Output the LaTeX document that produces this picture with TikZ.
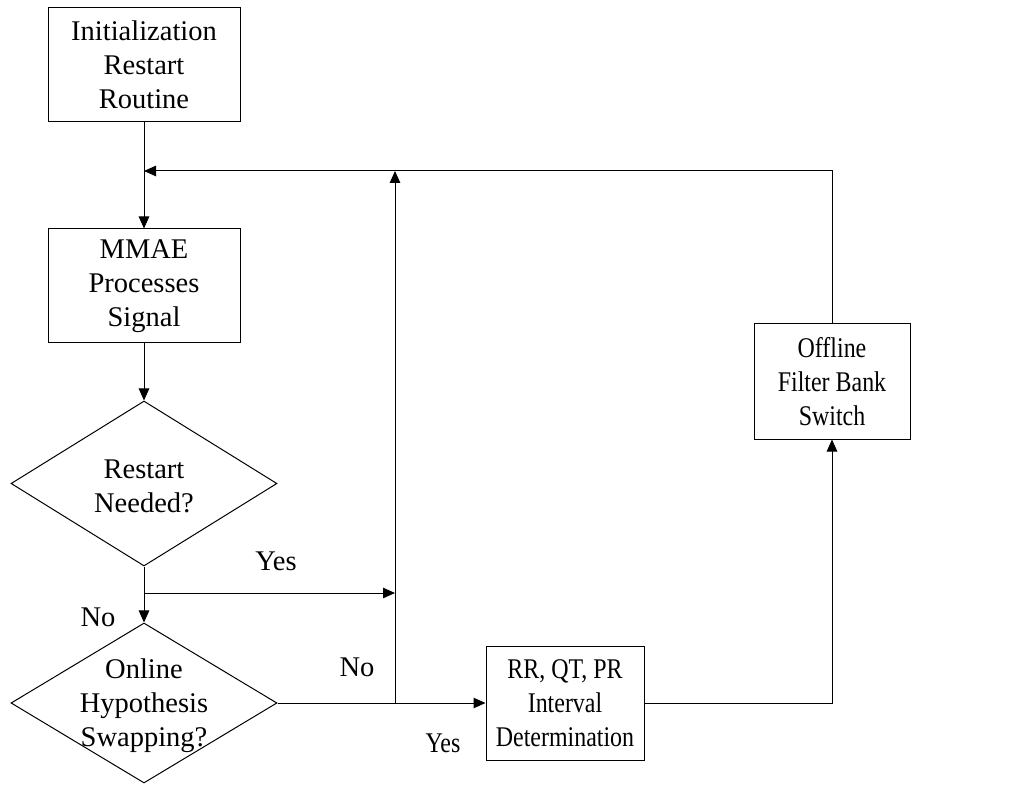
\documentclass[tikz,border=0pt]{standalone}
\usepackage{fontspec}
\setmainfont{Liberation Serif}
\newfontfamily\narrowserif[FakeStretch=0.84]{Liberation Serif}
\usetikzlibrary{shapes.geometric,arrows.meta}
\begin{document}
\begin{tikzpicture}[x=1pt,y=-1pt,
  font=\fontsize{28.5}{34}\selectfont,
  box/.style={draw, line width=1pt, rectangle, inner sep=0pt, align=center},
  dec/.style={draw, line width=1pt, diamond, inner sep=0pt},
  txt/.style={align=center, inner sep=0pt},
  narrowtxt/.style={font=\fontsize{28.5}{34}\narrowserif},
  conn/.style={line width=1pt, -{Triangle[length=12pt,width=10.5pt]}}]
\useasboundingbox (0,0) rectangle (1018,786);
\node[box, minimum width=192pt, minimum height=114pt] (init) at (144,65) {Initialization\\Restart\\Routine};
\node[box, minimum width=192pt, minimum height=114pt] (mmae) at (144,286) {MMAE\\Processes\\Signal};
\node[dec, minimum width=266pt, minimum height=165pt] (d1) at (144,483.5) {};
\node[txt] (d1t) at (144,486) {Restart\\Needed?};
\node[dec, minimum width=266pt, minimum height=160pt] (d2) at (144,703) {};
\node[txt] (d2t) at (144,706) {Online\\Hypothesis\\Swapping?};
\node[box, narrowtxt, minimum width=158pt, minimum height=114pt] (rr) at (565,703) {RR, QT, PR\\Interval\\Determination};
\node[box, narrowtxt, minimum width=156pt, minimum height=115pt] (off) at (832,381.5) {Offline\\Filter Bank\\Switch};
\coordinate (j1) at (144,171);
\coordinate (ybr) at (144,593);
\coordinate (vx) at (395,593);
\coordinate (v0) at (395,703);
\coordinate (v1) at (395,171);
\draw[conn] (init) -- (mmae);
\draw[conn] (mmae) -- (d1);
\draw[conn] (d1) -- (d2);
\draw[conn] (ybr) -- (vx);
\draw[conn] (v0) -- (v1);
\draw[conn] (d2.east) -- (rr.west);
\draw[conn] (rr.east) -| (off.south);
\draw[conn] (off.north) |- (j1);
\node[txt] (lyes1) at (276,561) {Yes};
\node[txt] (lno1) at (98,617) {No};
\node[txt] (lno2) at (357,667) {No};
\node[txt, narrowtxt] (lyes2) at (443,743) {Yes};
\end{tikzpicture}
\end{document}
